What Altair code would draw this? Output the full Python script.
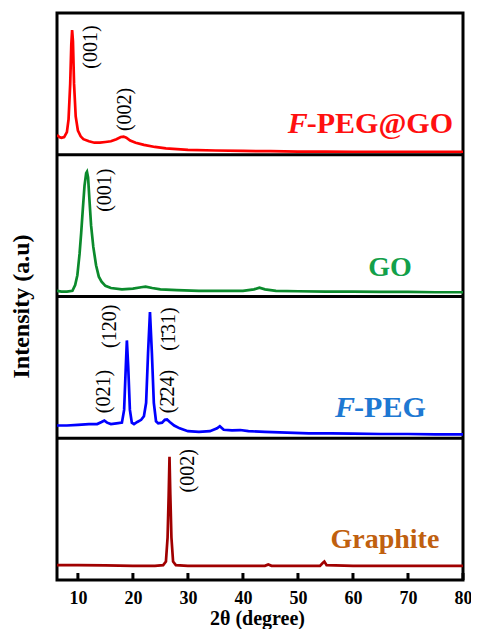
import altair as alt
import pandas as pd

# ---------------- data (y normalised per panel) -------------
series_names = ["F-PEG@GO", "GO", "F-PEG", "Graphite"]
series_offsets = [3, 2, 1, 0]
line_colors = ["#ff0000", "#0b8a2c", "#0000ff", "#a00000"]

fpeggo_x = [6.2, 6.6, 7.0, 7.5, 8.0, 8.3, 8.6, 8.8, 8.95, 9.1, 9.3, 9.6, 10.0, 10.5, 11.0,
            12.0, 13.0, 14.0, 15.0, 16.0, 17.0, 17.8, 18.3, 18.8, 19.5, 20.5, 22.0, 24.0,
            26.0, 28.0, 30.0, 35, 40, 45, 50, 55, 60, 65, 70, 75, 80]
fpeggo_y = [0.14, 0.125, 0.12, 0.125, 0.16, 0.25, 0.5, 0.78, 0.88, 0.8, 0.5, 0.27, 0.17,
            0.13, 0.11, 0.095, 0.085, 0.085, 0.09, 0.095, 0.11, 0.125, 0.128, 0.12, 0.1,
            0.085, 0.07, 0.055, 0.045, 0.04, 0.035, 0.03, 0.027, 0.025, 0.022, 0.022, 0.02,
            0.02, 0.02, 0.02, 0.02]

go_x = [6.2, 7, 8, 9, 9.5, 9.9, 10.3, 10.6, 10.9, 11.2, 11.5, 11.65, 11.85, 12.1, 12.4,
        12.8, 13.3, 13.8, 14.3, 15, 16, 18, 20, 21.5, 22.3, 23.5, 25, 28, 32, 36, 40, 42,
        43, 44, 46, 50, 55, 60, 65, 70, 75, 80]
go_y = [0.04, 0.035, 0.035, 0.04, 0.08, 0.15, 0.3, 0.45, 0.62, 0.78, 0.87, 0.88, 0.84,
        0.68, 0.5, 0.35, 0.22, 0.14, 0.105, 0.075, 0.06, 0.05, 0.055, 0.065, 0.07, 0.06,
        0.05, 0.045, 0.04, 0.04, 0.04, 0.05, 0.062, 0.05, 0.04, 0.037, 0.035, 0.035,
        0.033, 0.033, 0.03, 0.03]

fpeg_x = [6.2, 8, 10, 12, 13.5, 14.3, 14.8, 15.3, 16, 17, 18, 18.4, 18.65, 18.9, 19.15,
          19.45, 19.8, 20.2, 20.8, 21.5, 22.0, 22.4, 22.75, 23.1, 23.45, 23.8, 24.2, 24.6,
          25.3, 25.8, 26.2, 26.7, 27.5, 28.5, 30, 32, 34, 35.3, 35.8, 36.5, 38, 39.5, 41,
          44, 48, 52, 56, 60, 65, 70, 75, 80]
fpeg_y = [0.09, 0.09, 0.095, 0.1, 0.1, 0.115, 0.125, 0.11, 0.1, 0.105, 0.11, 0.2, 0.45,
          0.69, 0.5, 0.2, 0.11, 0.1, 0.115, 0.13, 0.155, 0.25, 0.6, 0.89, 0.6, 0.25, 0.12,
          0.105, 0.11, 0.13, 0.132, 0.115, 0.09, 0.07, 0.05, 0.045, 0.05, 0.07, 0.085,
          0.06, 0.055, 0.058, 0.05, 0.045, 0.04, 0.035, 0.035, 0.032, 0.03, 0.03, 0.028,
          0.028]

graphite_x = [6.2, 10, 15, 20, 24, 25.5, 26.0, 26.3, 26.5, 26.65, 26.8, 27.0, 27.3, 27.8,
              30, 35, 40, 44, 44.6, 45.2, 50, 54, 54.5, 54.8, 55.2, 60, 65, 70, 75, 80]
graphite_y = [0.105, 0.105, 0.103, 0.1, 0.1, 0.105, 0.13, 0.3, 0.6, 0.87, 0.6, 0.3, 0.13,
              0.105, 0.1, 0.1, 0.1, 0.1, 0.11, 0.1, 0.1, 0.1, 0.12, 0.13, 0.105, 0.1, 0.1,
              0.1, 0.1, 0.1]

x_ticks = [10, 20, 30, 40, 50, 60, 70, 80]
separators = [1, 2, 3]

peak_text = ["(001)", "(002)", "(001)", "(021)", "(120)", "(1\u030431)", "(2\u030424)", "(002)"]
peak_x = [12.3, 18.6, 15.0, 14.8, 15.9, 26.5, 26.3, 30.1]
peak_y = [3.76, 3.32, 2.75, 1.33, 1.79, 1.77, 1.33, 0.77]

name_main_text = ["GO", "Graphite"]
name_main_x = [70.7, 75.7]
name_main_y = [2.148, 0.225]
name_main_color = ["#12a04a", "#c0600f"]
name_main_size = [28, 28]

name_tail_text = ["-PEG@GO", "-PEG"]
name_tail_x = [51.6, 60.2]
name_tail_y = [3.155, 1.148]
name_tail_color = ["#ff1010", "#1e78d2"]
name_tail_size = [30, 30]
name_f_text = ["F", "F"]

# ---------------- tables ---------------------------------------------------------
rows = []
for name, off, xs, ys in zip(series_names, series_offsets,
                             [fpeggo_x, go_x, fpeg_x, graphite_x],
                             [fpeggo_y, go_y, fpeg_y, graphite_y]):
    for xv, yv in zip(xs, ys):
        rows.append({"series": name, "x": xv, "y": off + yv})
df = pd.DataFrame(rows)

W, H = 406, 567
FONT = "Liberation Serif"
xscale = alt.Scale(domain=[6.2, 80], nice=False, zero=False)
yscale = alt.Scale(domain=[0, 4], nice=False, zero=False)

lines = alt.Chart(df).mark_line(strokeWidth=2.7, clip=True).encode(
    x=alt.X("x:Q", scale=xscale, axis=alt.Axis(
        values=x_ticks, title="2θ (degree)", ticks=False, domain=False, grid=False,
        labelFlush=False, labelOverlap=False,
        labelFont=FONT, labelFontWeight="bold", labelFontSize=18, labelColor="black",
        labelPadding=9, titleFont=FONT, titleFontWeight="bold", titleFontSize=20,
        titleColor="black", titleX=200, titleY=38, titleBaseline="middle")),
    y=alt.Y("y:Q", scale=yscale, axis=alt.Axis(
        title="Intensity (a.u)", labels=False, ticks=False, domain=False, grid=False,
        titleFont=FONT, titleFontWeight="bold", titleFontSize=24, titleColor="black",
        titleX=-36, titleY=293, titleAngle=270, titleAlign="center",
        titleBaseline="middle")),
    color=alt.Color("series:N", scale=alt.Scale(domain=series_names, range=line_colors),
                    legend=None),
)

sep = alt.Chart(pd.DataFrame({"v": separators})).mark_rule(
    color="black", strokeWidth=3).encode(
    y=alt.Y("v:Q", scale=yscale), x=alt.value(0), x2=alt.value(W))

ticks = alt.Chart(pd.DataFrame({"t": x_ticks})).mark_rule(
    color="black", strokeWidth=3).encode(
    x=alt.X("t:Q", scale=xscale), y=alt.value(H), y2=alt.value(H - 7))

peaks = alt.Chart(pd.DataFrame({"t": peak_text, "x": peak_x, "y": peak_y})).mark_text(
    font=FONT, fontSize=20, angle=270, align="center", baseline="middle",
    color="black").encode(
    x=alt.X("x:Q", scale=xscale), y=alt.Y("y:Q", scale=yscale), text="t:N")

names_main = alt.Chart(pd.DataFrame({"t": name_main_text, "x": name_main_x,
                                     "y": name_main_y, "c": name_main_color,
                                     "s": name_main_size})).mark_text(
    font=FONT, fontWeight="bold", align="right", baseline="alphabetic").encode(
    x=alt.X("x:Q", scale=xscale), y=alt.Y("y:Q", scale=yscale), text="t:N",
    color=alt.Color("c:N", scale=None), size=alt.Size("s:Q", scale=None))

names_tail = alt.Chart(pd.DataFrame({"t": name_tail_text, "x": name_tail_x,
                                     "y": name_tail_y, "c": name_tail_color,
                                     "s": name_tail_size})).mark_text(
    font=FONT, fontWeight="bold", align="left", baseline="alphabetic").encode(
    x=alt.X("x:Q", scale=xscale), y=alt.Y("y:Q", scale=yscale), text="t:N",
    color=alt.Color("c:N", scale=None), size=alt.Size("s:Q", scale=None))

names_f = alt.Chart(pd.DataFrame({"t": name_f_text, "x": name_tail_x,
                                  "y": name_tail_y, "c": name_tail_color,
                                  "s": name_tail_size})).mark_text(
    font=FONT, fontWeight="bold", fontStyle="italic", align="right",
    baseline="alphabetic", dx=1).encode(
    x=alt.X("x:Q", scale=xscale), y=alt.Y("y:Q", scale=yscale), text="t:N",
    color=alt.Color("c:N", scale=None), size=alt.Size("s:Q", scale=None))

chart = alt.layer(lines, sep, ticks, peaks, names_main, names_tail, names_f).properties(
    width=W, height=H,
    background="white",
    padding={"left": 49, "top": 5, "right": 8, "bottom": 49},
    autosize=alt.AutoSizeParams(type="none"),
).configure_view(stroke="black", strokeWidth=3)

chart.save("out.html", embed_options={"renderer": "svg", "actions": False})
